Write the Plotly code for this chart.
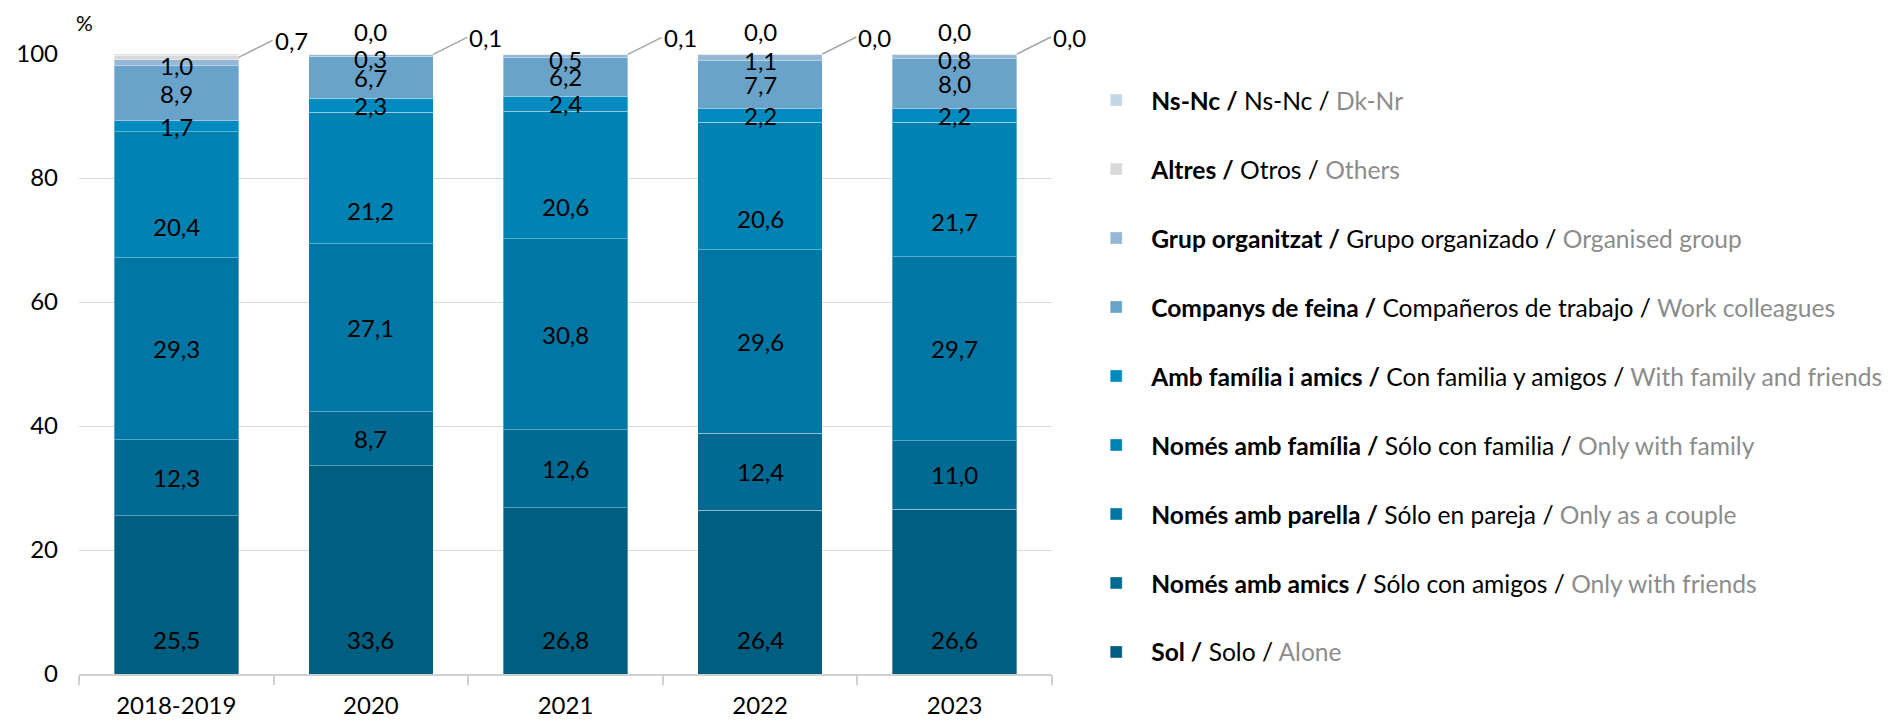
import plotly.graph_objects as go

years = ["2018-2019", "2020", "2021", "2022", "2023"]

sol = [25.5, 33.6, 26.8, 26.4, 26.6]
amics = [12.3, 8.7, 12.6, 12.4, 11.0]
parella = [29.3, 27.1, 30.8, 29.6, 29.7]
familia = [20.4, 21.2, 20.6, 20.6, 21.7]
fam_amics = [1.7, 2.3, 2.4, 2.2, 2.2]
companys = [8.9, 6.7, 6.2, 7.7, 8.0]
grup = [1.0, 0.3, 0.5, 1.1, 0.8]
altres = [0.7, 0.1, 0.1, 0.0, 0.0]
nsnc = [0.2, 0.0, 0.0, 0.0, 0.0]

cat_names = ["Sol", "Només amb amics", "Només amb parella", "Només amb família",
             "Amb família i amics", "Companys de feina", "Grup organitzat",
             "Altres", "Ns-Nc"]
es_names = ["Solo", "Sólo con amigos", "Sólo en pareja", "Sólo con familia",
            "Con familia y amigos", "Compañeros de trabajo", "Grupo organizado",
            "Otros", "Ns-Nc"]
en_names = ["Alone", "Only with friends", "Only as a couple", "Only with family",
            "With family and friends", "Work colleagues", "Organised group",
            "Others", "Dk-Nr"]

series = [sol, amics, parella, familia, fam_amics, companys, grup, altres, nsnc]
colors = ["#005e80", "#006a93", "#0076a5", "#0082b3", "#008bc0",
          "#6aa3c9", "#94b8d5", "#d9d9d9", "#c3d7e7"]

FONT = "Lato"
FS = 24
LFS = 24.6

fig = go.Figure()
for k, vals in enumerate(series):
    name = (f"<b>{cat_names[k]} /</b> {es_names[k]} / "
            f"<span style='color:#8c8c8c'>{en_names[k]}</span>")
    fig.add_trace(go.Bar(
        x=years, y=vals, name=name,
        marker=dict(color=colors[k], line=dict(color="rgba(255,255,255,0.35)", width=1)),
        legendgroup=str(k), legendrank=1000 - 10 * k, hoverinfo="skip",
    ))

def fmt(v):
    return f"{v:.1f}".replace(".", ",")

# label placement style per series: 'base', 'center', 'above', 'leader'
mode = ["base", "center", "center", "center", "center", "center", "center", "leader", "above"]
yshift = [35, 0, 0, -32, 0, 0, -3, 0, 23]

annotations = []
for i, yr in enumerate(years):
    cum = 0.0
    for k, vals in enumerate(series):
        v = vals[i]
        lo, hi = cum, cum + v
        cum = hi
        txt = fmt(v)
        m = mode[k]
        f = dict(size=FS, color="black", family=FONT)
        if m == "base":
            annotations.append(dict(x=i, y=lo, text=txt, showarrow=False, yshift=yshift[k],
                                    yanchor="middle", font=f))
        elif m == "center":
            annotations.append(dict(x=i, y=(lo + hi) / 2, text=txt, showarrow=False,
                                    yshift=yshift[k], yanchor="middle", font=f))
        elif m == "above":
            annotations.append(dict(x=i, y=hi, text=txt, showarrow=False, yshift=yshift[k],
                                    yanchor="middle", font=f))
        elif m == "leader":
            annotations.append(dict(x=i + 0.32, y=(lo + hi) / 2, xref="x", yref="y",
                                    text=txt, showarrow=True, arrowhead=0, arrowwidth=1.5,
                                    arrowcolor="#a6a6a6", ax=34, ay=-17, xanchor="left",
                                    standoff=0, startstandoff=0, font=f))

annotations.append(dict(x=0.006, y=1.0, xref="paper", yref="paper", text="%",
                        showarrow=False, yanchor="bottom", yshift=17, xanchor="center",
                        font=dict(size=FS - 3, color="black", family=FONT)))

fig.update_layout(
    barmode="stack",
    bargap=0.36,
    width=1890, height=714,
    margin=dict(l=71, r=846, t=46, b=48, autoexpand=False),
    paper_bgcolor="white", plot_bgcolor="white",
    font=dict(family=FONT, size=FS, color="black"),
    annotations=annotations,
    showlegend=True,
    legend=dict(
        x=1.030, y=0.962, xanchor="left", yanchor="top",
        traceorder="grouped", tracegroupgap=34, itemwidth=60,
        maxheight=710,
        font=dict(size=LFS, family=FONT, color="black"),
        bgcolor="rgba(0,0,0,0)",
    ),
    xaxis=dict(
        type="category", range=[-0.5, 4.5], autorange=False,
        showline=True, linecolor="#d0d0d0", linewidth=1.5,
        ticks="outside", tickson="boundaries", ticklen=9, tickcolor="#d0d0d0",
        tickwidth=1.5,
        tickfont=dict(size=FS, family=FONT, color="black"),
        ticklabelstandoff=9,
    ),
    yaxis=dict(
        range=[0, 100], autorange=False, dtick=20, showgrid=True, gridcolor="#d9d9d9",
        gridwidth=1, zeroline=False, showline=False, ticks="",
        tickfont=dict(size=FS, family=FONT, color="black"),
        ticklabelstandoff=20,
    ),
)

fig.write_html("out.html")
